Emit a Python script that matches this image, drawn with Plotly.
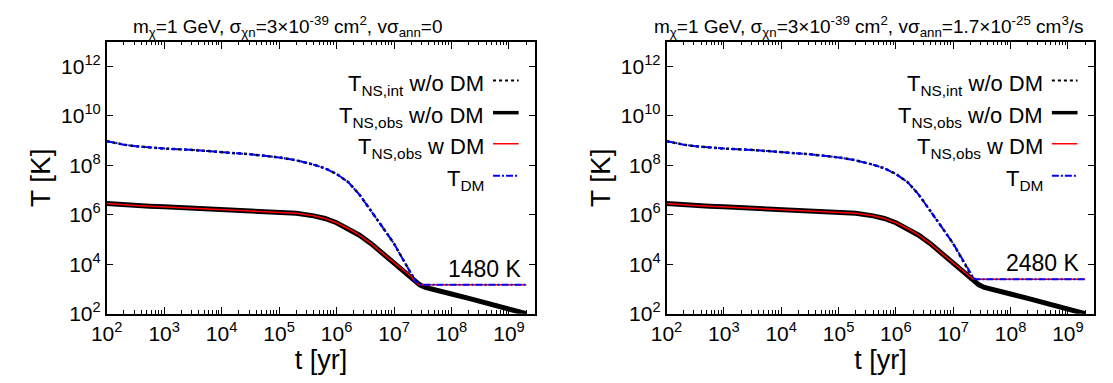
import math
import plotly.graph_objects as go

W, H = 1113, 383

# ---------------- data ----------------
# common time grid before the plateau [yr]
t_pre = [1e2, 1.4e2, 2e2, 3.2e2, 5.6e2, 1e3, 3.2e3, 1e4, 3.2e4, 1e5, 2e5, 4e5, 6.3e5,
         1e6, 1.6e6, 2.5e6, 4e6, 6.3e6, 1e7, 1.4e7, 2e7]
# T_DM (= T_NS,int before thermalisation) on t_pre [K]
T_dm_pre = [9.5e8, 7.9e8, 6.9e8, 5.9e8, 5.2e8, 4.8e8, 4.2e8, 3.5e8, 2.8e8, 2.1e8, 1.6e8,
            1.07e8, 7.6e7, 4.5e7, 2.1e7, 6.6e6, 1.5e6, 3.2e5, 6.8e4, 1.8e4, 4.2e3]
# T_NS,obs on t_pre [K]
T_obs_pre = [2.9e6, 2.7e6, 2.6e6, 2.4e6, 2.24e6, 2.1e6, 1.86e6, 1.66e6, 1.5e6, 1.32e6,
             1.15e6, 9.1e5, 7.1e5, 4.8e5, 2.8e5, 1.5e5, 6.8e4, 2.75e4, 1.15e4, 6.3e3, 3.2e3]

# late-time cooling without DM
t_late = [2.35e7, 2.8e7, 3.5e7, 5e7, 1e8, 2e8, 4e8, 1e9, 2e9]
T_obs_late = [2.0e3, 1.48e3, 1.15e3, 9.1e2, 6.3e2, 4.2e2, 2.75e2, 1.6e2, 1.0e2]
T_int_late = [2.1e3, 1.6e3, 1.24e3, 9.8e2, 6.8e2, 4.5e2, 2.95e2, 1.72e2, 1.07e2]

# Left panel (v sigma_ann = 0) : approach to the 1480 K plateau
t_dm_tail_L = [2.35e7, 2.8e7, 3.2e7, 2e9]
T_dm_tail_L = [2.1e3, 1.5e3, 1480, 1480]
t_red_tail_L = [2.3e7, 2.7e7, 3.2e7, 2e9]
T_red_tail_L = [2.0e3, 1.52e3, 1480, 1480]

# Right panel (v sigma_ann = 1.7e-25) : approach to the 2480 K plateau
t_dm_tail_R = [2.15e7, 2.4e7, 2.7e7, 2e9]
T_dm_tail_R = [3.4e3, 2.55e3, 2480, 2480]
t_red_tail_R = [2.2e7, 2.5e7, 2e9]
T_red_tail_R = [2.6e3, 2480, 2480]

plateau_labels = ["1480 K", "2480 K"]
plateau_values = [1480, 2480]
titles = [
    "m<sub>χ</sub>=1 GeV, σ<sub>χn</sub>=3×10<sup>-39</sup> cm<sup>2</sup>, vσ<sub>ann</sub>=0",
    "m<sub>χ</sub>=1 GeV, σ<sub>χn</sub>=3×10<sup>-39</sup> cm<sup>2</sup>, vσ<sub>ann</sub>=1.7×10<sup>-25</sup> cm<sup>3</sup>/s",
]
legend_names = ["T<sub>NS,int</sub> w/o DM", "T<sub>NS,obs</sub> w/o DM",
                "T<sub>NS,obs</sub> w DM", "T<sub>DM</sub>"]
x_tick_exp = [2, 3, 4, 5, 6, 7, 8, 9]
y_tick_exp = [2, 4, 6, 8, 10, 12]

# ---------------- styling ----------------
FONT = "Liberation Sans, Arial, Helvetica, sans-serif"
styles = [
    dict(color="black", width=2.5, dash="dot"),
    dict(color="black", width=5, dash="solid"),
    dict(color="#ff0000", width=1.5, dash="solid"),
    dict(color="#0000ff", width=2, dash="7px,2px,2px,2px"),
]
key_widths = [2, 3.5, 1.5, 2]


def px_x(p):
    return p / W


def px_y(p):
    return 1 - p / H


panels = [
    dict(x0=92, x1=527, red=(t_red_tail_L, T_red_tail_L), dm=(t_dm_tail_L, T_dm_tail_L),
         title_cx=275),
    dict(x0=660, x1=1094, red=(t_red_tail_R, T_red_tail_R), dm=(t_dm_tail_R, T_dm_tail_R),
         title_cx=865),
]
y0_px, y1_px = 43, 323

fig = go.Figure()
annotations = []
shapes = []

minor_vals = [m * 10 ** k for k in range(2, 10) for m in range(2, 10)]

for i, p in enumerate(panels):
    xa = "x" if i == 0 else "x2"
    ya = "y" if i == 0 else "y2"
    t_red, T_red = p["red"]
    t_dm, T_dm = p["dm"]
    red_cut = [k for k, tv in enumerate(t_pre) if tv < t_red[0]]
    dm_cut = [k for k, tv in enumerate(t_pre) if tv < t_dm[0]]
    series = [
        (t_pre + t_late, T_dm_pre + T_int_late),
        (t_pre + t_late, T_obs_pre + T_obs_late),
        ([t_pre[k] for k in red_cut] + t_red, [T_obs_pre[k] for k in red_cut] + T_red),
        ([t_pre[k] for k in dm_cut] + t_dm, [T_dm_pre[k] for k in dm_cut] + T_dm),
    ]
    for (tx, ty), st, nm in zip(series, styles, legend_names):
        fig.add_trace(go.Scatter(x=tx, y=ty, mode="lines", line=st, name=nm,
                                 showlegend=False, xaxis=xa, yaxis=ya))
    axis_common = dict(
        type="log", showline=True, linecolor="black", linewidth=1.5, mirror="ticks",
        ticks="inside", ticklen=7, tickwidth=1, tickcolor="black", showgrid=False,
        zeroline=False, tickfont=dict(family=FONT, size=21, color="black"),
    )
    xkw = dict(axis_common)
    xkw.update(
        domain=[px_x(p["x0"]), px_x(p["x1"])], range=[2, 9.46], anchor=ya,
        tickmode="array", tickvals=[10 ** e for e in x_tick_exp],
        ticktext=[f"10<sup>{e}</sup>" for e in x_tick_exp],
        minor=dict(tickmode="array", tickvals=minor_vals, ticks="inside", ticklen=3.5,
                   tickcolor="black", showgrid=False),
        title=dict(text="t [yr]", font=dict(family=FONT, size=27, color="black"), standoff=0),
    )
    ykw = dict(axis_common)
    ykw.update(
        domain=[px_y(y1_px), px_y(y0_px)], range=[2, 13], anchor=xa,
        tickmode="array", tickvals=[10 ** e for e in y_tick_exp],
        ticktext=[f"10<sup>{e}</sup>" for e in y_tick_exp],
        title=dict(text="T [K]", font=dict(family=FONT, size=28, color="black"), standoff=2),
    )
    if i == 0:
        fig.update_layout(xaxis=xkw, yaxis=ykw)
    else:
        fig.update_layout(xaxis2=xkw, yaxis2=ykw)

    # panel title
    annotations.append(dict(text=titles[i], x=px_x(p["title_cx"]), y=px_y(27),
                            xref="paper", yref="paper", xanchor="center", yanchor="middle",
                            showarrow=False, font=dict(family=FONT, size=19, color="black")))
    # plateau label
    annotations.append(dict(text=plateau_labels[i], x=px_x(p["x1"] - 12),
                            y=math.log10(plateau_values[i]),
                            xref="paper", yref=ya, xanchor="right", yanchor="bottom",
                            yshift=1, showarrow=False,
                            font=dict(family=FONT, size=23, color="black")))
    # manual key (text on the left, sample on the right, like gnuplot)
    row_y = [83, 116, 148, 181]
    for ry, nm, st, kw in zip(row_y, legend_names, styles, key_widths):
        annotations.append(dict(text=nm, x=px_x(p["x1"] - 50), y=px_y(ry),
                                xref="paper", yref="paper", xanchor="right",
                                yanchor="middle", yshift=-4, showarrow=False,
                                font=dict(family=FONT, size=22, color="black")))
        shapes.append(dict(type="line", xref="paper", yref="paper",
                           x0=px_x(p["x1"] - 43), x1=px_x(p["x1"] - 17),
                           y0=px_y(ry), y1=px_y(ry),
                           line=dict(color=st["color"], width=kw, dash=st["dash"])))

fig.update_layout(
    width=W, height=H, margin=dict(l=0, r=0, t=0, b=0),
    paper_bgcolor="white", plot_bgcolor="white",
    annotations=annotations, shapes=shapes, showlegend=False,
    font=dict(family=FONT, color="black"),
)

fig.write_html("out.html")
